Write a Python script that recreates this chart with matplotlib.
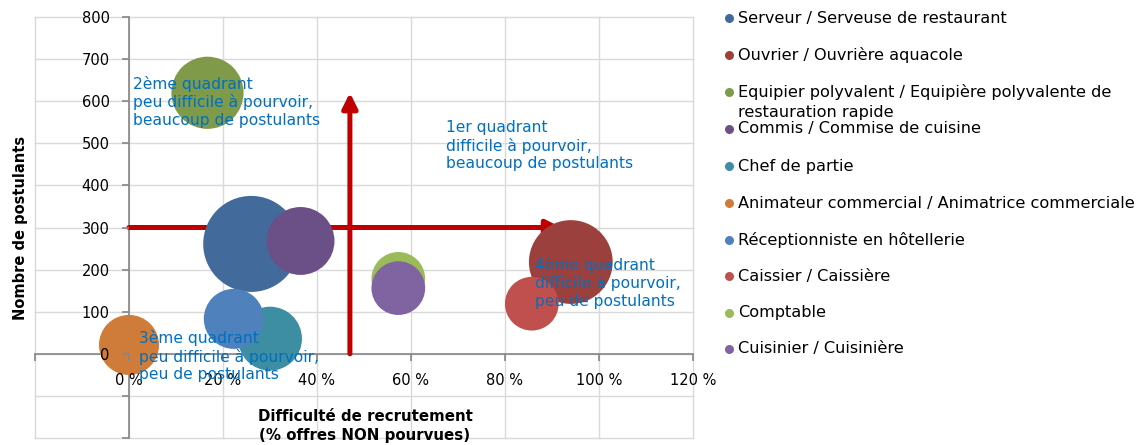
import numpy as np
import matplotlib
matplotlib.use('Agg')
import matplotlib.pyplot as plt
from matplotlib.lines import Line2D

# données
metiers = ['Serveur / Serveuse de restaurant',
           'Ouvrier / Ouvrière aquacole',
           'Equipier polyvalent / Equipière polyvalente de\nrestauration rapide',
           'Commis / Commise de cuisine',
           'Chef de partie',
           'Animateur commercial / Animatrice commerciale',
           'Réceptionniste en hôtellerie',
           'Caissier / Caissière',
           'Comptable',
           'Cuisinier / Cuisinière']
difficulte = [26, 94, 16.7, 36.5, 30, 0, 22.3, 85.7, 57.3, 57.3]      # % offres non pourvues
postulants = [261, 218, 620, 268, 36, 21, 83, 119, 178, 156]
offres = [230, 175, 130, 115, 102, 90, 90, 72, 72, 72]                # taille des bulles
couleurs = ['#426A9B', '#9C403D', '#7F9A48', '#6B5087', '#3D8DA3',
            '#CF7B39', '#4F81BD', '#C0504D', '#9BBB59', '#8064A2']

x_ticks = [-20, 0, 20, 40, 60, 80, 100, 120]
y_ticks = [-200, -100, 0, 100, 200, 300, 400, 500, 600, 700, 800]

quadrants = ['2ème quadrant\npeu difficile à pourvoir,\nbeaucoup de postulants',
             '1er quadrant\ndifficile à pourvoir,\nbeaucoup de postulants',
             '3ème quadrant\npeu difficile à pourvoir,\npeu de postulants',
             '4ème quadrant\ndifficile à pourvoir,\npeu de postulants']
quad_x = [0.85, 67.4, 2.1, 86.3]
quad_y = [599, 494, -5, 169]

W, H = 1137, 445
fig = plt.figure(figsize=(W / 100, H / 100), dpi=100)
ax = fig.add_axes([35 / W, 7 / H, (693 - 35) / W, (438 - 17) / H])
ax.set_xlim(-20, 120)
ax.set_ylim(-200, 800)

# quadrillage
grid = '#D9D9D9'
for v in x_ticks:
    ax.axvline(v, color=grid, lw=1.0, zorder=0.5, clip_on=False)
for v in y_ticks:
    ax.axhline(v, color=grid, lw=1.0, zorder=0.5, clip_on=False)

for s in ['top', 'right']:
    ax.spines[s].set_visible(False)
ax.spines['left'].set_position(('data', 0))
ax.spines['bottom'].set_position(('data', 0))
for s in ['left', 'bottom']:
    ax.spines[s].set_color('#868686')
    ax.spines[s].set_linewidth(1.2)
    ax.spines[s].set_zorder(1)

ax.set_xticks(x_ticks)
ax.set_xticklabels(['' if v < 0 else f'{v} %' for v in x_ticks])
ax.set_yticks(y_ticks)
ax.set_yticklabels(['' if v < 0 else str(v) for v in y_ticks])
ax.tick_params(axis='both', direction='out', length=5, width=1.2, color='#868686',
               labelsize=10.5, labelcolor='black', pad=9)
ax.xaxis.set_zorder(4)
ax.yaxis.set_zorder(4)

# flèches de séparation des quadrants
arrow = dict(arrowstyle='-|>,head_length=0.9,head_width=0.45', mutation_scale=10,
             color='#C00000', lw=3.6, shrinkA=0, shrinkB=0)
ax.annotate('', xy=(92, 300), xytext=(0, 300), arrowprops=arrow, zorder=2)
ax.annotate('', xy=(47, 620), xytext=(47, 0), arrowprops=arrow, zorder=2)

# bulles
k = (1.44 * 3.165) ** 2
for i in range(len(metiers)):
    ax.scatter(difficulte[i], postulants[i], s=offres[i] * k, color=couleurs[i],
               edgecolors='none', zorder=3)

for t, x, y in zip(quadrants, quad_x, quad_y):
    ax.text(x, y, t, color='#0070C0', fontsize=11.2, ha='left', va='center', zorder=5)

# titres des axes
fig.text(365 / W, 1 - 426 / H, 'Difficulté de recrutement\n(% offres NON pourvues)',
         ha='center', va='center', fontsize=10.8, fontweight='bold', linespacing=1.3)
fig.text(20 / W, 1 - 228 / H, 'Nombre de postulants', rotation=90,
         ha='center', va='center', fontsize=10.5, fontweight='bold')

# légende
leg_y = [18, 55, 92, 129, 166, 203, 240, 276, 313, 349]
for i, nom in enumerate(metiers):
    y0 = leg_y[i]
    fig.add_artist(Line2D([729 / W], [1 - y0 / H], marker='o', markersize=6.5,
                          color=couleurs[i], markeredgewidth=0, linestyle='none',
                          transform=fig.transFigure))
    for j, ligne in enumerate(nom.split('\n')):
        fig.text(738 / W, 1 - (y0 + 21 * j) / H, ligne, ha='left', va='center',
                 fontsize=11.6)

fig.savefig('out.png', dpi=100)
